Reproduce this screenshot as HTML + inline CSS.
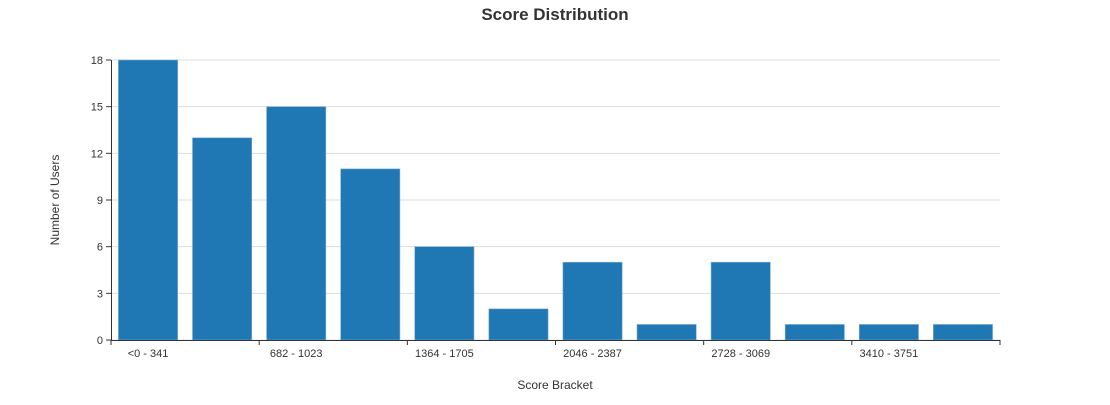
<!DOCTYPE html>
<html><head><meta charset="utf-8"><style>
body{margin:0;background:#fff;font-family:"Liberation Sans",Arial,sans-serif}
</style></head><body>
<svg id="chart" width="1110" height="400" xmlns="http://www.w3.org/2000/svg" font-family="Liberation Sans, Arial, sans-serif">
<text x="555" y="20" text-anchor="middle" font-size="17" font-weight="bold" fill="#333">Score Distribution</text>
<text transform="translate(59,200) rotate(-90)" text-anchor="middle" font-size="12" fill="#333">Number of Users</text>
<text x="555" y="389" text-anchor="middle" font-size="12" fill="#333">Score Bracket</text>
<g id="grid"></g><g id="bars"></g><g id="axes"></g>
</svg>
<script>
const categories=["<0 - 341","341 - 682","682 - 1023","1023 - 1364","1364 - 1705","1705 - 2046","2046 - 2387","2387 - 2728","2728 - 3069","3069 - 3410","3410 - 3751","3751+"];
const counts=[18,13,15,11,6,2,5,1,5,1,1,1];
const yTicks=[0,3,6,9,12,15,18];
const NS="http://www.w3.org/2000/svg";
const X0=111,X1=1000,Y0=340,Y1=60,yMax=18;
const step=(X1-X0)/categories.length;
const y=v=>Y0-(v/yMax)*(Y0-Y1);
const xb=i=>X0+i*step;
function mk(tag,attrs,parent){const e=document.createElementNS(NS,tag);for(const k in attrs)e.setAttribute(k,attrs[k]);document.getElementById(parent).appendChild(e);return e;}
yTicks.forEach(t=>{
  const g=mk('line',{x1:X0,x2:X1,y1:y(t),y2:y(t),stroke:'#ddd','stroke-width':1},'grid');
  
  
  const tk=mk('line',{x1:X0-5,x2:X0,y1:y(t),y2:y(t),stroke:'#333'},'axes');
  
  
  const tx=mk('text',{x:X0-8,y:y(t)+4,'text-anchor':'end','font-size':11,fill:'#333'},'axes');
  tx.textContent=t;
  
  
});
const bw=step*0.8;
counts.forEach((v,i)=>{
  const r=mk('rect',{x:xb(i)+(step-bw)/2,y:y(v),width:bw,height:Y0-y(v),fill:'#1f77b4',stroke:'#7fb0d8','stroke-width':0.6},'bars');
  
  
  if(i%2===0){
    const tk=mk('line',{x1:xb(i),x2:xb(i),y1:Y0,y2:Y0+5,stroke:'#333'},'axes');
    
    
    const tx=mk('text',{x:xb(i)+step/2,y:Y0+17,'text-anchor':'middle','font-size':11,fill:'#333'},'axes');
    tx.textContent=categories[i];
    
    
  }
});
const ax=mk('line',{x1:X0,x2:X1,y1:Y0+0.5,y2:Y0+0.5,stroke:'#333'},'axes');


const et=mk('line',{x1:X1,x2:X1,y1:Y0,y2:Y0+5,stroke:'#333'},'axes');


const ay=mk('line',{x1:X0+0.5,x2:X0+0.5,y1:Y1,y2:Y0,stroke:'#333'},'axes');


</script>
</body></html>
